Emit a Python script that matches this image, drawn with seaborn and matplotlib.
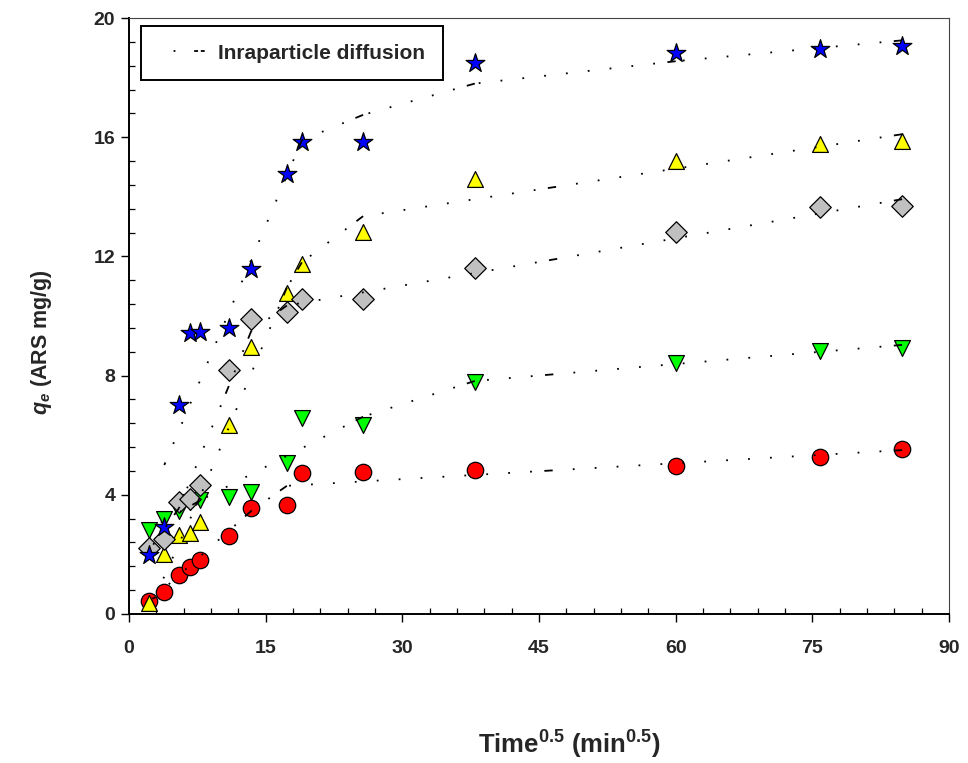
import numpy as np
import pandas as pd
import matplotlib
matplotlib.use("Agg")
import matplotlib.pyplot as plt
import seaborn as sns
from matplotlib.lines import Line2D
from matplotlib.ticker import MultipleLocator
from matplotlib.font_manager import FontProperties

# ---------------- data ----------------
time_sqrt = [2.24, 3.87, 5.48, 6.71, 7.75, 10.95, 13.42, 17.32, 18.97, 25.69, 37.95, 60.0, 75.89, 84.85]

qe_red    = [0.45, 0.75, 1.32, 1.57, 1.81, 2.62, 3.55, 3.65, 4.72, 4.75, 4.82, 4.96, 5.28, 5.53]
qe_green  = [2.82, 3.20, 3.46, 3.75, 3.83, 3.92, 4.10, 5.06, 6.57, 6.35, 7.80, 8.42, 8.84, 8.92]
qe_gray   = [2.23, 2.53, 3.77, 3.86, 4.33, 8.19, 9.89, 10.12, 10.56, 10.56, 11.60, 12.83, 13.66, 13.69]
qe_yellow = [0.36, 2.00, 2.65, 2.71, 3.10, 6.34, 8.97, 10.78, 11.76, 12.82, 14.60, 15.21, 15.77, 15.88]
qe_blue   = [1.98, 2.93, 7.00, 9.42, 9.45, 9.61, 11.57, 14.77, 15.83, 15.85, 18.48, 18.81, 18.95, 19.06]

# intraparticle-diffusion (multi-linear) fit vertices
fit_red_x    = [2.24, 13.42, 17.32, 84.85]
fit_red_y    = [0.42, 3.46, 4.30, 5.50]
fit_green_x  = [2.24, 7.75, 25.69, 37.95, 84.85]
fit_green_y  = [2.85, 3.80, 6.62, 7.82, 9.03]
fit_gray_x   = [2.24, 5.48, 10.95, 13.42, 17.32, 84.85]
fit_gray_y   = [2.15, 3.55, 7.65, 9.50, 10.35, 13.92]
fit_yellow_x = [2.24, 7.75, 17.32, 18.97, 25.69, 84.85]
fit_yellow_y = [0.15, 3.90, 10.95, 11.80, 13.35, 16.10]
fit_blue_x   = [3.87, 18.97, 25.69, 37.95, 60.0, 84.85]
fit_blue_y   = [5.00, 15.90, 16.75, 17.80, 18.55, 19.25]

x_ticks = [0, 15, 30, 45, 60, 75, 90]
y_ticks = [0, 4, 8, 12, 16, 20]
legend_label = "Inraparticle diffusion"

# ---------------- style ----------------
sns.set_theme(style="ticks")
plt.rcParams.update({
    "font.family": ["Liberation Sans", "DejaVu Sans"],
    "font.weight": "bold",
    "axes.labelweight": "bold",
    "mathtext.fontset": "custom",
    "mathtext.rm": "Liberation Sans:bold",
    "mathtext.bf": "Liberation Sans:bold",
    "mathtext.it": "Liberation Sans:bold:italic",
    "lines.scale_dashes": False,
})

fig = plt.figure(figsize=(9.68, 7.63), dpi=100)
ax = fig.add_axes([0.1333, 0.1953, 0.8471, 0.7811])

series = [
    (qe_red,    "o", "#FF0000", 140),
    (qe_green,  "v", "#00FF00", 130),
    (qe_yellow, "^", "#FFFF00", 130),
    (qe_gray,   "D", "#C0C0C0", 120),
    (qe_blue,   "*", "#0000FF", 200),
]
for yv, mk, col, sz in series:
    df = pd.DataFrame({"t": time_sqrt, "q": yv})
    sns.scatterplot(data=df, x="t", y="q", marker=mk, color=col, s=sz,
                    edgecolor="black", linewidth=0.9, ax=ax, zorder=3,
                    legend=False)

# fit lines: each piece drawn from its right vertex, pattern restarting
dash_pat = (0, tuple([6.0, 9.0] + [1.3, 14.5] * 60))
fits = [(fit_red_x, fit_red_y), (fit_green_x, fit_green_y),
        (fit_gray_x, fit_gray_y), (fit_yellow_x, fit_yellow_y),
        (fit_blue_x, fit_blue_y)]
for fx, fy in fits:
    for i in range(len(fx) - 1):
        ax.plot([fx[i + 1], fx[i]], [fy[i + 1], fy[i]], color="black",
                lw=1.3, linestyle=dash_pat, dash_capstyle="butt", zorder=4)

# ---------------- axes ----------------
ax.set_xlim(0, 90)
ax.set_ylim(0, 20)
ax.set_xticks(x_ticks)
ax.set_yticks(y_ticks)
ax.xaxis.set_minor_locator(MultipleLocator(3))
ax.yaxis.set_minor_locator(MultipleLocator(0.8))
ax.tick_params(axis="both", which="major", direction="out", length=6,
               width=1.0, labelsize=14, color="black")
ax.tick_params(axis="x", which="major", pad=13)
ax.tick_params(axis="y", which="major", pad=4)
ax.tick_params(axis="both", which="minor", direction="in", length=4.5,
               width=0.9, color="black")
ax.tick_params(top=False, right=False, which="both")
for lab in ax.get_xticklabels() + ax.get_yticklabels():
    lab.set_fontweight("bold")

for side in ["left", "bottom"]:
    ax.spines[side].set_linewidth(1.4)
    ax.spines[side].set_color("black")
for side in ["top", "right"]:
    ax.spines[side].set_linewidth(0.8)
    ax.spines[side].set_color("#444444")

ax.set_xlabel(r"Time$^{0.5}$ (min$^{0.5}$)", fontsize=18.5, fontweight="bold")
ax.xaxis.set_label_coords(0.537, -0.192)
ax.set_ylabel(r"$q_e$ (ARS mg/g)", fontsize=15.5, fontweight="bold")
ax.yaxis.set_label_coords(-0.092, 0.456)

# ---------------- legend ----------------
handle = Line2D([], [], color="black", lw=1.3,
                linestyle=(0, (0.01, 10.5, 1.3, 13.5, 2.8, 2.0, 2.8, 60)),
                dash_capstyle="butt")
leg = ax.legend([handle], [legend_label], loc="upper left",
                bbox_to_anchor=(0.0146, 0.9866), borderaxespad=0,
                frameon=True, fancybox=False, edgecolor="black",
                framealpha=1, prop=FontProperties(family="Liberation Sans",
                                                  weight="bold", size=15),
                handlelength=2.3, handletextpad=0.55, borderpad=0.85)
leg.get_frame().set_linewidth(1.4)

fig.savefig("out.png", dpi=100)
